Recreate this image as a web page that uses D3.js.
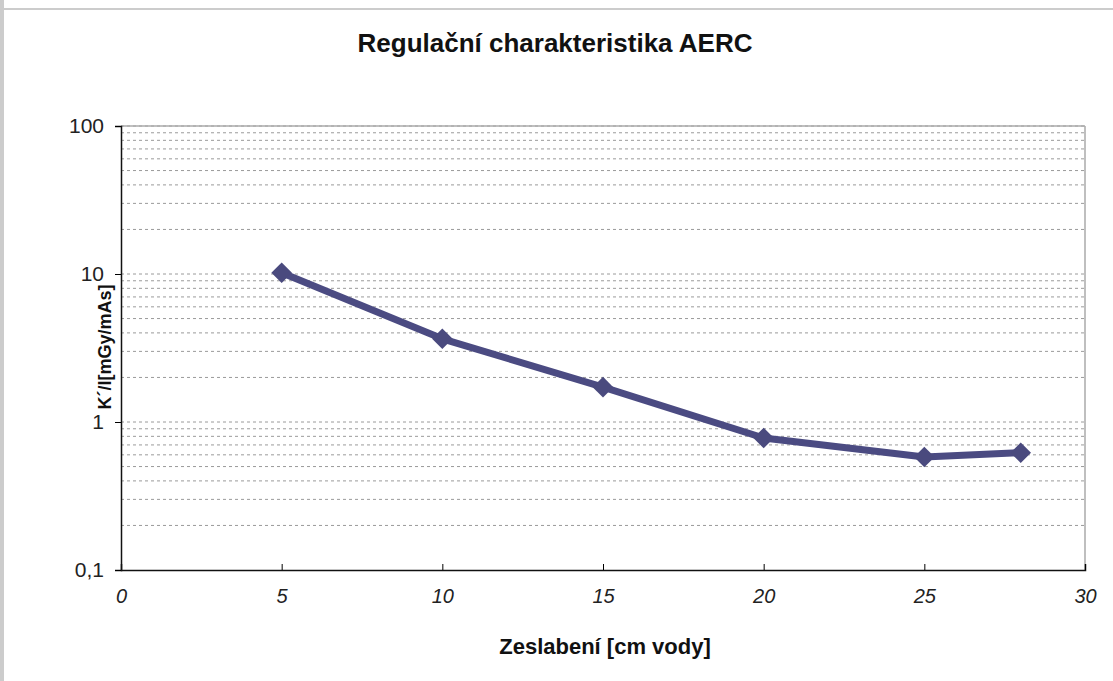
<!DOCTYPE html>
<html>
<head>
<meta charset="utf-8">
<script src="https://cdn.jsdelivr.net/npm/d3@7"></script>
<style>
  body { margin: 0; background: #fff; }
  svg { display: block; font-family: "Liberation Sans", Arial, sans-serif; }
</style>
</head>
<body>
<svg width="1113" height="681"></svg>
<script>
// data
var thickness = [5, 10, 15, 20, 25, 28];
var kerma = [10.2, 3.65, 1.72, 0.78, 0.58, 0.62];
var xTicks = [0, 5, 10, 15, 20, 25, 30];
var yTicks = [0.1, 1, 10, 100];
var yTickLabels = ["0,1", "1", "10", "100"];

var svg = d3.select("svg"),
    margin = {top: 126, right: 28, bottom: 111, left: 121},
    width = svg.attr("width") - margin.left - margin.right,
    height = svg.attr("height") - margin.top - margin.bottom,
    g = svg.append("g").attr("transform", "translate(" + margin.left + "," + margin.top + ")");

var data = thickness.map(function(d, i) { return {x: d, y: kerma[i]}; });

var x = d3.scaleLinear().domain([0, 30]).range([0, width]);
var y = d3.scaleLog().domain([0.1, 100]).range([height, 0]);

// scan border line at top + grey strip on the left
svg.append("line")
    .attr("x1", 0).attr("x2", 1113).attr("y1", 9).attr("y2", 9)
    .attr("stroke", "#999").attr("stroke-width", 1.2);
svg.append("rect")
    .attr("x", 0).attr("y", 0).attr("width", 4).attr("height", 681)
    .attr("fill", "#ccc");

// minor + major gridlines
var gridVals = [];
[0.1, 1, 10].forEach(function(dec) {
  for (var k = 1; k <= 9; k++) gridVals.push(dec * k);
});
gridVals.push(100);

g.append("g")
  .selectAll("line")
  .data(gridVals.filter(function(v) { return v > 0.1 + 1e-9; }))
  .enter().append("line")
    .attr("x1", 0).attr("x2", width)
    .attr("y1", function(d) { return y(d); })
    .attr("y2", function(d) { return y(d); })
    .attr("stroke", "#9a9a9a")
    .attr("stroke-width", 1)
    .attr("stroke-dasharray", "3,3");

// frame (top and right)
g.append("line").attr("x1", 0).attr("x2", width).attr("y1", 0).attr("y2", 0)
    .attr("stroke", "#aaa").attr("stroke-width", 1.5);
g.append("line").attr("x1", width).attr("x2", width).attr("y1", 0).attr("y2", height)
    .attr("stroke", "#aaa").attr("stroke-width", 1.5);

// axes
var xAxis = g.append("g")
    .attr("class", "axis axis--x")
    .attr("transform", "translate(0," + height + ")")
    .call(d3.axisBottom(x).tickValues(xTicks).tickSize(-6).tickPadding(19));
xAxis.select(".domain").attr("stroke", "#111").attr("stroke-width", 1.5);
xAxis.selectAll("text")
    .attr("font-size", 20).attr("font-style", "italic").attr("fill", "#222")
    .attr("dy", "0.71em");

var yAxis = g.append("g")
    .attr("class", "axis axis--y")
    .call(d3.axisLeft(y).tickValues(yTicks)
      .tickFormat(function(d, i) { return yTickLabels[i]; })
      .tickSize(6).tickPadding(11));
yAxis.select(".domain").attr("stroke", "#111").attr("stroke-width", 1.5);
yAxis.selectAll("text").attr("font-size", 21).attr("fill", "#222");

// series
var line = d3.line()
    .x(function(d) { return x(d.x); })
    .y(function(d) { return y(d.y); });

g.append("path")
    .datum(data)
    .attr("fill", "none")
    .attr("stroke", "#4b4b82")
    .attr("stroke-width", 7)
    .attr("stroke-linejoin", "round")
    .attr("d", line);

g.append("g")
  .selectAll("path")
  .data(data)
  .enter().append("path")
    .attr("transform", function(d) { return "translate(" + x(d.x) + "," + y(d.y) + ")"; })
    .attr("d", d3.symbol().type(d3.symbolDiamond2).size(270))
    .attr("fill", "#4a4a7e");

// titles
svg.append("text")
    .attr("x", 555).attr("y", 52)
    .attr("text-anchor", "middle")
    .attr("font-size", 26).attr("font-weight", "bold").attr("fill", "#111")
    .text("Regulační charakteristika AERC");

svg.append("text")
    .attr("x", 605).attr("y", 654)
    .attr("text-anchor", "middle")
    .attr("font-size", 22).attr("font-weight", "bold").attr("fill", "#111")
    .text("Zeslabení [cm vody]");

svg.append("text")
    .attr("transform", "translate(111,347) rotate(-90)")
    .attr("text-anchor", "middle")
    .attr("font-size", 18).attr("font-weight", "bold").attr("fill", "#111")
    .text("K´/I[mGy/mAs]");
</script>
</body>
</html>
